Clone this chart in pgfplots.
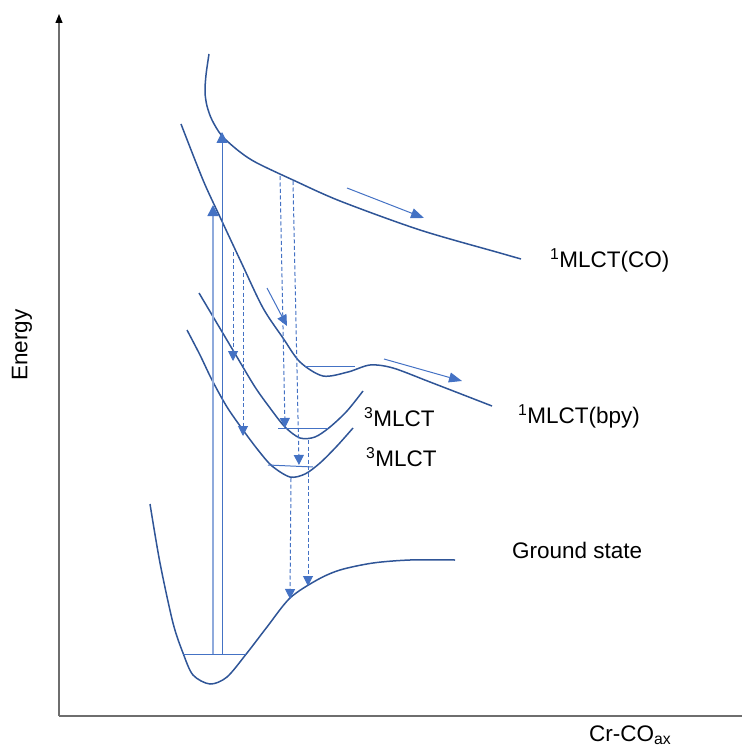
\documentclass[border=0pt]{standalone}
\usepackage{pgfplots}
\pgfplotsset{compat=1.18}
\usepackage{fontspec}
\setmainfont{Liberation Sans}
\usetikzlibrary{arrows.meta}
\definecolor{curve}{RGB}{47,85,151}
\definecolor{lb}{RGB}{68,114,196}
\definecolor{pale}{RGB}{143,170,220}
\definecolor{axg}{RGB}{110,110,110}
\tikzset{lbl/.style={inner sep=0pt, font=\fontsize{22.5}{27}\selectfont}}
\begin{document}
\begin{tikzpicture}
\begin{axis}[
  width=742pt, height=751pt, scale only axis,
  xmin=0, xmax=742, ymin=0, ymax=751, y dir=reverse,
  hide axis, clip=false,
]
% bounding box
\addplot[draw=none] coordinates {(0,0) (742,751)};
% axes
\addplot[axg, line width=1.2pt, -{Triangle[width=7pt,length=9pt,black]}] coordinates {(59,716) (59,14)};
\addplot[axg, line width=1.2pt] coordinates {(59,716) (742,716)};
% ground state
\addplot[curve, line width=1.5pt, smooth] coordinates {
(150,504) (160,563) (173,623) (183,653) (193,675) (210,684) (227,677) (247,653) (267,627) (290,598) (317,580) (340,570) (373,563) (410,560) (455,560)};
% 1MLCT(CO)
\addplot[curve, line width=1.5pt, smooth] coordinates {
(209,54) (206,75) (205,92) (207,106) (212,120) (222,136) (240,152) (257,163) (293,180) (340,201) (420,230) (500,253) (521,259)};
% 1MLCT(bpy)
\addplot[curve, line width=1.5pt, smooth] coordinates {
(181,124) (203,180) (220,217) (242,264) (263,308) (283,338) (300,362) (323,376) (348,372) (370,365) (393,368) (430,382) (492,406)};
% upper 3MLCT
\addplot[curve, line width=1.5pt, smooth] coordinates {
(199,293) (218,325) (237,357) (255,387) (270,408) (285,427) (300,438) (315,437) (330,427) (347,411) (363,391)};
% lower 3MLCT
\addplot[curve, line width=1.5pt, smooth] coordinates {
(187,330) (200,355) (212,380) (227,407) (243,430) (258,450) (272,466) (290,477) (305,474) (320,463) (337,446) (353,428)};
% vibrational levels
\addplot[lb, line width=1pt] coordinates {(183,654) (246,654)};
\addplot[lb, line width=1pt] coordinates {(268,465) (313,467)};
\addplot[lb, line width=1pt] coordinates {(278,428) (328,428)};
\addplot[lb, line width=1pt] coordinates {(305,366) (355,366)};
% excitation arrows
\addplot[pale, line width=1.5pt, -{Triangle[width=11pt,length=11pt,lb]}] coordinates {(213,654) (213,205)};
\addplot[lb, line width=1pt, -{Triangle[width=11pt,length=11pt,lb]}] coordinates {(222,654) (222,132)};
% relaxation arrows (solid, slanted)
\addplot[lb, line width=1pt, -{Triangle[width=10pt,length=13pt,lb]}] coordinates {(347,188) (424,218)};
\addplot[lb, line width=1pt, -{Triangle[width=10pt,length=13pt,lb]}] coordinates {(384,359) (462,381)};
\addplot[lb, line width=1pt, -{Triangle[width=10pt,length=11pt,lb]}] coordinates {(267,288) (287,326)};
% dashed arrows
\addplot[lb, line width=1pt, dash pattern=on 4pt off 2.5pt, -{Triangle[width=10pt,length=10pt,lb]}] coordinates {(233,252) (233,361)};
\addplot[lb, line width=1pt, dash pattern=on 4pt off 2.5pt, -{Triangle[width=10pt,length=10pt,lb]}] coordinates {(243,273) (243,436)};
\addplot[lb, line width=1pt, dash pattern=on 4pt off 2.5pt, -{Triangle[width=10pt,length=10pt,lb]}] coordinates {(280,176) (285,428)};
\addplot[lb, line width=1pt, dash pattern=on 4pt off 2.5pt, -{Triangle[width=10pt,length=10pt,lb]}] coordinates {(293,181) (299,465)};
\addplot[lb, line width=1pt, dash pattern=on 4pt off 2.5pt, -{Triangle[width=10pt,length=10pt,lb]}] coordinates {(308,440) (308,586)};
\addplot[lb, line width=1pt, dash pattern=on 4pt off 2.5pt, -{Triangle[width=10pt,length=10pt,lb]}] coordinates {(291,478) (290,599)};
% labels
\node[lbl, anchor=base west] at (axis cs:550,267) {\textsuperscript{1}MLCT(CO)};
\node[lbl, anchor=base west] at (axis cs:518,423) {\textsuperscript{1}MLCT(bpy)};
\node[lbl, anchor=base west] at (axis cs:364,426) {\textsuperscript{3}MLCT};
\node[lbl, anchor=base west] at (axis cs:366,466) {\textsuperscript{3}MLCT};
\node[lbl, anchor=base west] at (axis cs:512,558) {Ground state};
\node[lbl, rotate=90] at (axis cs:22,345) {Energy};
\node[lbl, anchor=base west, overlay] at (axis cs:589,741) {Cr-CO\textsubscript{ax}};
\end{axis}
\end{tikzpicture}
\end{document}
